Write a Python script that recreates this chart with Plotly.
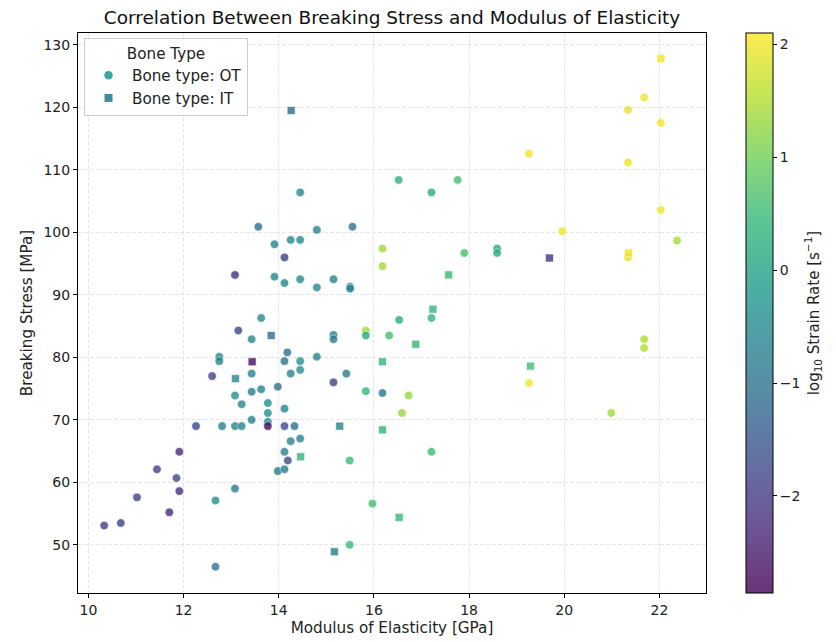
import plotly.graph_objects as go
import plotly.colors as pc

# ---------------- data ----------------
ot_modulus = [14.45, 13.57, 14.8, 13.91, 14.25, 14.45, 14.12, 13.08, 13.91, 14.12,
              14.45, 14.8, 15.15, 13.63, 13.15, 13.43, 15.15, 15.15, 12.75, 12.75,
              14.18, 14.12, 14.45, 14.8, 14.25, 14.45, 15.15, 12.6, 13.43, 13.98,
              13.63, 13.43, 13.08, 13.22, 13.77, 13.77, 14.12, 13.43, 13.77, 12.26,
              12.81, 13.08, 13.22, 13.77, 14.12, 14.33, 14.25, 14.45, 14.12, 14.19,
              13.98, 14.12, 11.91, 11.44, 11.85, 11.91, 11.02, 13.08, 12.67, 11.7,
              10.33, 10.68, 12.67, 15.55, 16.52, 17.21, 17.76, 19.26, 19.96, 16.18,
              16.18, 17.9, 18.59, 18.59, 15.5, 15.5, 17.21, 16.53, 15.83, 15.83,
              16.32, 19.26, 15.42, 15.83, 16.18, 16.73, 16.59, 17.21, 15.49, 15.97,
              15.49, 21.68, 21.34, 22.03, 21.34, 22.03, 22.37, 21.34, 21.68, 21.68,
              20.99]
ot_stress = [106.4, 100.9, 100.4, 98.1, 98.8, 98.8, 96.0, 93.2, 92.9, 91.9,
             92.5, 91.2, 92.5, 86.3, 84.3, 82.9, 83.6, 82.9, 80.1, 79.4,
             80.8, 79.4, 79.4, 80.1, 77.4, 78.0, 76.0, 77.0, 77.4, 75.3,
             74.9, 74.5, 73.9, 72.5, 72.7, 71.1, 71.8, 70.0, 69.7, 69.0,
             69.0, 69.0, 69.0, 69.0, 69.0, 69.0, 66.6, 67.0, 64.9, 63.5,
             61.8, 62.1, 64.9, 62.1, 60.7, 58.6, 57.6, 59.0, 57.1, 55.2,
             53.1, 53.5, 46.5, 100.9, 108.4, 106.4, 108.4, 112.6, 100.2, 97.4,
             94.6, 96.7, 97.4, 96.7, 91.3, 91.0, 86.3, 86.0, 84.3, 83.5,
             83.5, 75.9, 77.4, 74.6, 74.3, 73.9, 71.1, 64.9, 63.5, 56.6,
             50.0, 121.6, 119.6, 117.5, 111.2, 103.6, 98.7, 96.0, 82.9, 81.5,
             71.1]
ot_lograte = [-0.5, -1.1, -0.6, -0.6, -0.5, -0.5, -1.9, -2.1, -0.6, -0.6,
              -0.5, -0.6, -0.7, -0.5, -1.8, -0.6, -0.7, -0.7, -0.6, -0.6,
              -1.0, -1.0, -0.3, -0.6, -0.6, -0.4, -1.9, -1.8, -0.6, -1.1,
              -0.7, -0.7, -0.4, -0.5, -0.4, -0.4, -0.6, -0.7, -0.5, -1.8,
              -0.7, -0.6, -0.6, -2.7, -1.7, -1.0, -0.7, -0.6, -0.7, -1.7,
              -0.8, -0.8, -2.3, -1.9, -1.8, -2.2, -1.9, -0.8, -0.4, -2.3,
              -1.9, -1.9, -0.9, -0.9, 0.3, 0.2, 0.6, 2.0, 2.0, 1.4,
              1.4, 0.6, 0.1, 0.2, -0.8, -0.6, 0.4, 0.2, 1.4, 0.1,
              0.6, 2.0, -0.8, 0.4, -0.9, 1.3, 1.3, 0.5, 0.5, 0.6,
              0.5, 2.0, 1.9, 2.0, 2.0, 2.0, 1.4, 1.9, 1.5, 1.5,
              1.4]

it_modulus = [14.26, 13.84, 13.44, 13.09, 15.28, 14.46, 15.17, 19.69, 17.57, 17.24,
              16.88, 16.18, 19.29, 16.18, 16.53, 22.03, 21.35]
it_stress = [119.5, 83.5, 79.3, 76.6, 69.0, 64.1, 48.9, 95.9, 93.2, 87.7,
             82.1, 79.3, 78.6, 68.4, 54.4, 127.8, 96.7]
it_lograte = [-1.1, -1.1, -2.7, -0.5, -0.6, 0.4, -0.7, -2.1, 0.5, 0.4,
              0.4, 0.4, 0.6, 0.4, 0.5, 2.0, 2.0]

x_ticks = [10, 12, 14, 16, 18, 20, 22]
y_ticks = [50, 60, 70, 80, 90, 100, 110, 120, 130]
cbar_ticks = [-2, -1, 0, 1, 2]

title_text = "Correlation Between Breaking Stress and Modulus of Elasticity"
x_label = "Modulus of Elasticity [GPa]"
y_label = "Breaking Stress [MPa]"
cbar_label = "log<sub>10</sub> Strain Rate [s<sup>\u22121</sup>]"
legend_title = "Bone Type"
ot_name = "Bone type: OT"
it_name = "Bone type: IT"

CMIN, CMAX = -2.86, 2.1
FONT = "DejaVu Sans"
ALPHA = 0.8

# lightened viridis (as seen through alpha 0.8 on white) for the colourbar
vir = pc.sequential.Viridis
n = len(vir)
light_scale = []
for i, c in enumerate(vir):
    r, g, b = pc.hex_to_rgb(c)
    lr = ALPHA * r + (1 - ALPHA) * 255
    lg = ALPHA * g + (1 - ALPHA) * 255
    lb = ALPHA * b + (1 - ALPHA) * 255
    light_scale.append([i / (n - 1), f"rgb({lr:.0f},{lg:.0f},{lb:.0f})"])

fig = go.Figure()

common_marker = dict(colorscale="Viridis", cmin=CMIN, cmax=CMAX, opacity=ALPHA,
                     line=dict(color="white", width=0.6))

fig.add_trace(go.Scatter(
    x=ot_modulus, y=ot_stress, mode="markers", name=ot_name, showlegend=False,
    marker=dict(symbol="circle", size=8.5, color=ot_lograte, **common_marker),
))
fig.add_trace(go.Scatter(
    x=it_modulus, y=it_stress, mode="markers", name=it_name, showlegend=False,
    marker=dict(symbol="square", size=8, color=it_lograte, **common_marker),
))

# colourbar carrier (invisible)
fig.add_trace(go.Scatter(
    x=[None], y=[None], mode="markers", showlegend=False, hoverinfo="skip",
    marker=dict(color=[CMIN, CMAX], colorscale=light_scale, cmin=CMIN, cmax=CMAX,
                showscale=True,
                colorbar=dict(
                    x=(746 - 78) / 628, xanchor="left", xref="paper",
                    y=0.5, yanchor="middle", len=1.0, lenmode="fraction",
                    xpad=0, ypad=0,
                    thickness=27, outlinecolor="black", outlinewidth=1,
                    tickvals=cbar_ticks, ticks="outside", ticklen=4, tickcolor="black",
                    tickfont=dict(family=FONT, size=14, color="#222"),
                    title=dict(text=cbar_label, side="right",
                               font=dict(family=FONT, size=15, color="#222")),
                )),
))

# legend-only handles
fig.add_trace(go.Scatter(x=[None], y=[None], mode="markers", name=ot_name,
                         marker=dict(symbol="circle", size=8.5, color="#3fa39d")))
fig.add_trace(go.Scatter(x=[None], y=[None], mode="markers", name=it_name,
                         marker=dict(symbol="square", size=8, color="#3e8d9e")))

axis_common = dict(showline=True, linecolor="black", linewidth=1, mirror=True,
                   ticks="outside", ticklen=4, tickcolor="black",
                   showgrid=True, gridcolor="#e6e6e6", griddash="4px,2px", gridwidth=1,
                   zeroline=False,
                   tickfont=dict(family=FONT, size=14, color="#222"))

fig.update_xaxes(range=[9.78, 22.98], tickvals=x_ticks,
                 title=dict(text=x_label, font=dict(family=FONT, size=15.2, color="#222"), standoff=5),
                 **axis_common)
fig.update_yaxes(range=[42.3, 131.9], tickvals=y_ticks,
                 title=dict(text=y_label, font=dict(family=FONT, size=15.2, color="#222"), standoff=7),
                 **axis_common)

fig.update_layout(
    width=836, height=642,
    margin=dict(l=78, r=130, t=33, b=49, autoexpand=False),
    paper_bgcolor="white", plot_bgcolor="white",
    title=dict(text=title_text, x=0.5, xref="paper", xanchor="center",
               y=1 - 18 / 642, yanchor="middle",
               font=dict(family=FONT, size=18.5, color="#111")),
    legend=dict(x=0.0096, y=0.991, xanchor="left", yanchor="top",
                bgcolor="rgba(255,255,255,0.85)", bordercolor="#cccccc", borderwidth=1,
                itemwidth=37, tracegroupgap=0,
                font=dict(family=FONT, size=15.2, color="#222"),
                title=dict(text=legend_title, side="top center",
                           font=dict(family=FONT, size=15.2, color="#222"))),
    font=dict(family=FONT),
)

fig.write_html("out.html")
